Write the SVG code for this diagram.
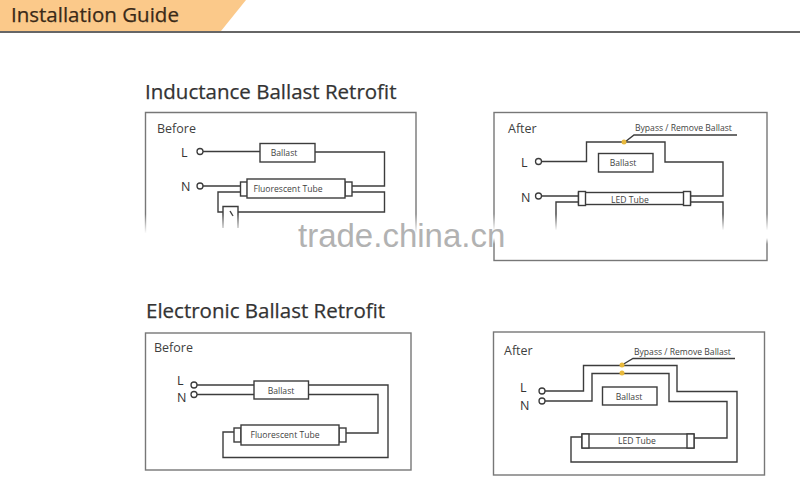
<svg xmlns="http://www.w3.org/2000/svg" width="800" height="491" viewBox="0 0 800 491">
<style>
text{font-family:"Open Sans","Noto Sans","Liberation Sans",sans-serif;fill:#3f3f3f}
.frame{fill:#fff;stroke:#777;stroke-width:1.4}
.box{fill:#fff;stroke:#3c3c3c;stroke-width:1.4}
.wire{fill:none;stroke:#3c3c3c;stroke-width:1.4}
.term{fill:#fff;stroke:#3c3c3c;stroke-width:1.3}
.title{font-size:20.500px;fill:#333;stroke:#333;stroke-width:.25}
.state{font-size:12.500px}
.ln{font-size:12.500px;fill:#333}
.lbl{font-size:8.600px;text-anchor:middle}
.by{font-size:8.600px}
.dot{fill:#e8b93c}
</style>
<defs>
<linearGradient id="fade" x1="0" y1="0" x2="0" y2="1">
<stop offset="0" stop-color="#fff" stop-opacity="0"/>
<stop offset="0.75" stop-color="#fff" stop-opacity="1"/>
<stop offset="1" stop-color="#fff" stop-opacity="1"/>
</linearGradient>
<linearGradient id="fadeb" x1="0" y1="0" x2="0" y2="1">
<stop offset="0" stop-color="#fff" stop-opacity="0"/>
<stop offset="0.55" stop-color="#fff" stop-opacity="1"/>
<stop offset="0.8" stop-color="#fff" stop-opacity="1"/>
<stop offset="1" stop-color="#fff" stop-opacity="0"/>
</linearGradient>
</defs>
<rect width="800" height="491" fill="#fff"/>
<g id="header">
<polygon points="0,0 246,0 221,31 0,31" fill="#fbc98a"/>
<rect x="0" y="31" width="800" height="2" fill="#666"/>
<text x="11" y="22" font-size="20.500" style="fill:#3a2a18;stroke:#3a2a18;stroke-width:.25">Installation Guide</text>
</g>
<text class="title" x="145" y="99">Inductance Ballast Retrofit</text>
<text class="title" x="146" y="318">Electronic Ballast Retrofit</text>

<g id="panel-inductance-before">
<path class="frame" d="M145.500 234V112.500H416V234"/>
<text class="state" x="157" y="133">Before</text>
<text class="ln" x="181" y="157">L</text>
<text class="ln" x="181" y="191">N</text>
</g>
<g id="panel-inductance-after">
<rect class="frame" x="494" y="112.500" width="273" height="148"/>
<text class="state" x="508" y="133">After</text>
<text class="ln" x="521" y="167">L</text>
<text class="ln" x="521" y="202">N</text>
<text class="by" x="635" y="131">Bypass / Remove Ballast</text>
</g>
<g id="panel-electronic-before">
<rect class="frame" x="145.500" y="333" width="265.500" height="137"/>
<text class="state" x="154" y="352">Before</text>
<text class="ln" x="177" y="385">L</text>
<text class="ln" x="177" y="402">N</text>
</g>
<g id="panel-electronic-after">
<rect class="frame" x="493.500" y="332" width="271" height="143"/>
<text class="state" x="504" y="355">After</text>
<text class="ln" x="520" y="392">L</text>
<text class="ln" x="520" y="410">N</text>
<text class="by" x="634" y="355">Bypass / Remove Ballast</text>
</g>

<g id="connectors">
<path class="wire" d="M203 151.500H260M315 152H384.500V186H352"/>
<path class="wire" d="M203 186H240.500M240.500 192H218V212H223M238 212H384.500V192H352"/>
<path class="wire" d="M541.500 161.500H586.500V142H665V162H723V196H691"/>
<path class="wire" d="M541.500 196H579M579 202H556V236M691 202H723V236"/>
<path class="wire" d="M625 142L634 135H737"/>
<path class="wire" d="M197 385H254M197 394.500H254"/>
<path class="wire" d="M308.500 385H388V457.500H223V432H234"/>
<path class="wire" d="M308.500 394.500H378V433H346"/>
<path class="wire" d="M545 391H583.500V365.500H677V391.500H737V462H571V437H582"/>
<path class="wire" d="M545 401H592V373.500H669V401.500H727V438H694"/>
<path class="wire" d="M622 365L633 358.500H735"/>
</g>

<g id="term-L1"><circle class="term" cx="200" cy="151.500" r="3"/></g>
<g id="term-N1"><circle class="term" cx="200" cy="186" r="3"/></g>
<g id="term-L2"><circle class="term" cx="538.500" cy="161.500" r="3"/></g>
<g id="term-N2"><circle class="term" cx="538.500" cy="196" r="3"/></g>
<g id="term-L3"><circle class="term" cx="194" cy="385" r="3"/></g>
<g id="term-N3"><circle class="term" cx="194" cy="394.500" r="3"/></g>
<g id="term-L4"><circle class="term" cx="542" cy="391" r="3"/></g>
<g id="term-N4"><circle class="term" cx="542" cy="401" r="3"/></g>

<g id="ballast-1"><rect class="box" x="260" y="143.500" width="55" height="18.500"/><text class="lbl" x="284" y="156">Ballast</text></g>
<g id="tube-1">
<rect class="box" x="240.500" y="182" width="7" height="14"/><rect class="box" x="345" y="182" width="7" height="14"/>
<rect class="box" x="247" y="179" width="98" height="19"/>
<text class="lbl" x="288" y="192">Fluorescent Tube</text>
</g>
<g id="starter-1"><path class="box" d="M223 228V206.500H238V228"/><path class="wire" d="M230 211L233 216"/></g>

<g id="ballast-2"><rect class="box" x="598.500" y="153.500" width="54.500" height="18.500"/><text class="lbl" x="623" y="166">Ballast</text></g>
<g id="tube-2">
<rect class="box" x="578.500" y="192.500" width="112" height="12"/>
<rect class="box" x="578.500" y="191.500" width="7" height="14"/><rect class="box" x="683.500" y="191.500" width="7" height="14"/>
<text class="lbl" x="630" y="202.500">LED Tube</text>
</g>
<g id="bypass-2"><circle class="dot" cx="624" cy="142" r="2.500"/></g>

<g id="ballast-3"><rect class="box" x="254" y="381" width="54.500" height="18"/><text class="lbl" x="281" y="394">Ballast</text></g>
<g id="tube-3">
<rect class="box" x="234" y="428" width="7" height="14"/><rect class="box" x="339" y="428" width="7" height="14"/>
<rect class="box" x="241" y="425" width="98" height="20"/>
<text class="lbl" x="285" y="438">Fluorescent Tube</text>
</g>

<g id="ballast-4"><rect class="box" x="602.500" y="387" width="54.500" height="18"/><text class="lbl" x="629" y="400">Ballast</text></g>
<g id="tube-4">
<rect class="box" x="582" y="434" width="112" height="14"/>
<rect class="box" x="582" y="434" width="7" height="14"/><rect class="box" x="687" y="434" width="7" height="14"/>
<text class="lbl" x="637" y="444">LED Tube</text>
</g>
<g id="bypass-4"><circle class="dot" cx="622" cy="365" r="2.500"/><circle class="dot" cx="622" cy="373" r="2.500"/></g>

<rect x="135" y="214" width="290" height="26" fill="url(#fade)"/>
<rect x="485" y="214" width="295" height="30" fill="url(#fadeb)"/>
<text x="298" y="246.500" font-size="33" style="font-family:'Liberation Sans',Arial,sans-serif;fill:#b2b2b2">trade.china.cn</text>
</svg>
